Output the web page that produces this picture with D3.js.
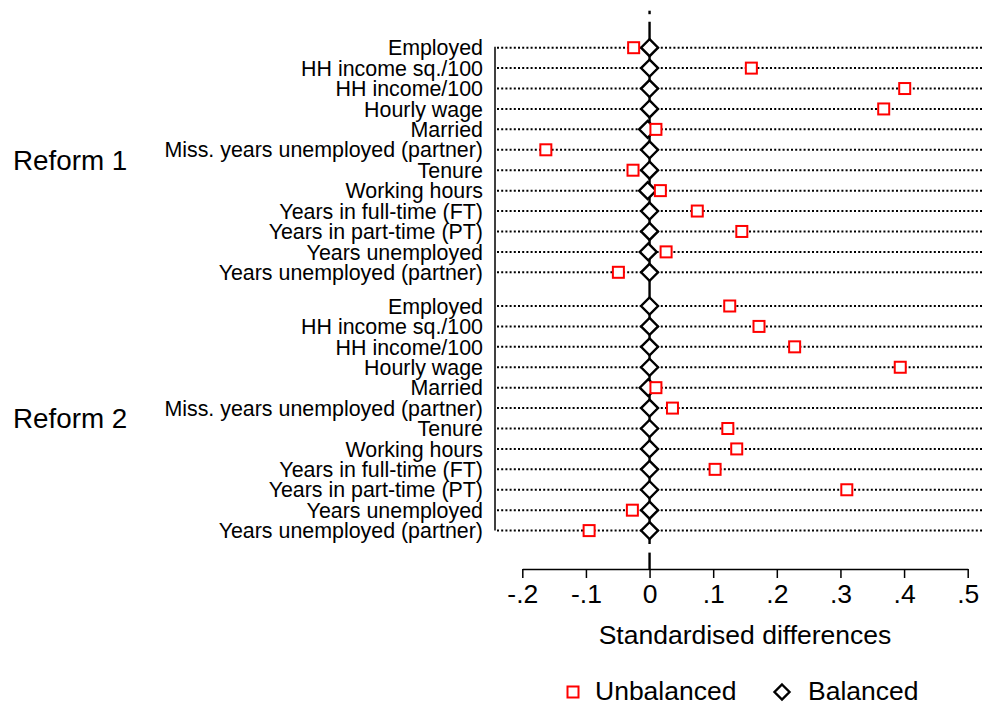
<!DOCTYPE html>
<html><head><meta charset="utf-8">
<script src="https://cdn.jsdelivr.net/npm/d3@7"></script>
<style>body{margin:0;background:#fff}svg{display:block;font-family:"Liberation Sans",Arial,sans-serif}</style>
</head><body><svg id="c" width="993" height="708"></svg>
<script>
const groups = ["Reform 1", "Reform 2"];
const variables = ["Employed","HH income sq./100","HH income/100","Hourly wage","Married",
  "Miss. years unemployed (partner)","Tenure","Working hours","Years in full-time (FT)",
  "Years in part-time (PT)","Years unemployed","Years unemployed (partner)"];
const unbalanced1 = [-0.025,0.160,0.401,0.368,0.010,-0.163,-0.026,0.017,0.075,0.145,0.026,-0.049];
const balanced1   = [0,0,0,0,-0.003,0,0,-0.003,0,0,-0.002,0];
const unbalanced2 = [0.126,0.172,0.228,0.394,0.010,0.036,0.123,0.137,0.103,0.310,-0.027,-0.095];
const balanced2   = [0,0,0,0,-0.002,0,0,0,0,0,0,0];
const xTicks = [-0.2,-0.1,0,0.1,0.2,0.3,0.4,0.5];
const xTickLabels = ["-.2","-.1","0",".1",".2",".3",".4",".5"];
const xTitle = "Standardised differences";
const legendLabels = ["Unbalanced","Balanced"];

const unb = [unbalanced1, unbalanced2], bal = [balanced1, balanced2];
const svg = d3.select("#c");
const x = d3.scaleLinear().domain([-0.2,0.5]).range([522.3,967.7]);
const yRow = d3.scaleLinear().domain([0, variables.length-1]).range([47.7,272.3]);
const groupOffset = d3.scaleOrdinal().domain(groups).range([0,258.3]);
const yOf = (g,i) => yRow(i) + groupOffset(g);
const axisY = 569, plotLeft = 495, plotRight = 983;
const firstY = yOf(groups[0],0), lastY = yOf(groups[1],variables.length-1);

const rows = [];
groups.forEach((g,gi)=>variables.forEach((v,i)=>rows.push({g,v,i,u:unb[gi][i],b:bal[gi][i],y:yOf(g,i)})));

// dotted lines
svg.append("g").selectAll("line").data(rows).join("line")
  .attr("x1",plotLeft+2).attr("x2",plotRight).attr("y1",d=>d.y).attr("y2",d=>d.y)
  .attr("stroke","#000").attr("stroke-width",2).attr("stroke-dasharray","2,2.2");

// y axis line
svg.append("line").attr("x1",plotLeft).attr("x2",plotLeft).attr("y1",firstY-1).attr("y2",lastY)
  .attr("stroke","#000").attr("stroke-width",1.5);

// zero reference line (segments)
const zx = x(0);
[[firstY-37,firstY-33.5],[firstY-26,lastY+13.5],[lastY+22,axisY]].forEach(s=>{
  svg.append("line").attr("x1",zx).attr("x2",zx).attr("y1",s[0]).attr("y2",s[1])
    .attr("stroke","#000").attr("stroke-width",2.4);
});

// row labels
svg.append("g").selectAll("text").data(rows).join("text")
  .attr("x",483).attr("y",d=>d.y).attr("dy","0.36em").attr("text-anchor","end")
  .attr("font-size",21.4).text(d=>d.v);

// group labels
svg.append("g").selectAll("text").data(groups).join("text")
  .attr("x",13).attr("y",g=>(yOf(g,0)+yOf(g,variables.length-1))/2).attr("dy","0.36em")
  .attr("font-size",27.8).text(g=>g);

// diamonds
const dsz = 8.5;
const diamond = (cx,cy)=>`M${cx},${cy-dsz}L${cx+dsz},${cy}L${cx},${cy+dsz}L${cx-dsz},${cy}Z`;
svg.append("g").selectAll("path").data(rows).join("path")
  .attr("d",d=>diamond(x(d.b),d.y)).attr("fill","#fff").attr("stroke","#000").attr("stroke-width",2.4)
  .attr("stroke-linejoin","miter");

// squares
const ssz = 11;
svg.append("g").selectAll("rect").data(rows).join("rect")
  .attr("x",d=>x(d.u)-ssz/2).attr("y",d=>d.y-ssz/2).attr("width",ssz).attr("height",ssz)
  .attr("fill","#fff").attr("stroke","#ff0000").attr("stroke-width",2);

// x axis
const ax = svg.append("g").attr("transform",`translate(0,${axisY})`)
  .call(d3.axisBottom(x).tickValues(xTicks).tickFormat((d,i)=>xTickLabels[i]).tickSize(9).tickPadding(6).tickSizeOuter(0));
ax.select(".domain").attr("stroke","#000").attr("stroke-width",1.5);
ax.selectAll(".tick line").attr("stroke","#000").attr("stroke-width",1.5);
ax.selectAll(".tick text").attr("font-size",26.5).attr("font-family","'Liberation Sans',Arial,sans-serif").attr("fill","#000");

svg.append("text").attr("x",(x(-0.2)+x(0.5))/2).attr("y",644).attr("text-anchor","middle")
  .attr("font-size",26.5).text(xTitle);

// legend
const lg = svg.append("g");
lg.append("rect").attr("x",573-ssz/2).attr("y",692-ssz/2).attr("width",ssz).attr("height",ssz)
  .attr("fill","#fff").attr("stroke","#ff0000").attr("stroke-width",2);
lg.append("text").attr("x",595).attr("y",700).attr("font-size",26.5).text(legendLabels[0]);
const ld = 7.5;
lg.append("path").attr("d",`M782,${692-ld}L${782+ld},692L782,${692+ld}L${782-ld},692Z`)
  .attr("fill","#fff").attr("stroke","#000").attr("stroke-width",2.4);
lg.append("text").attr("x",808).attr("y",700).attr("font-size",26.5).text(legendLabels[1]);
</script></body></html>
